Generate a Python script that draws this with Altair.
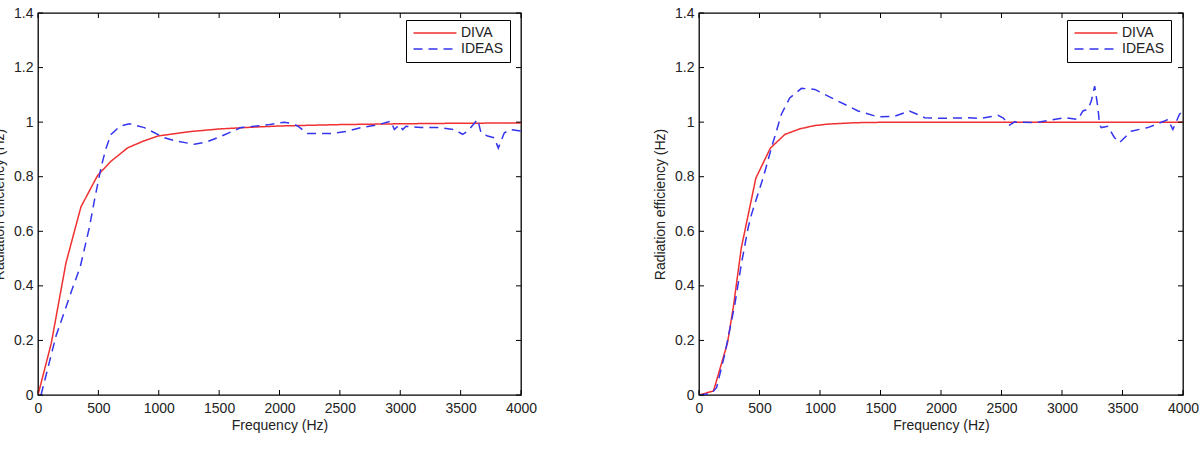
import altair as alt
import pandas as pd

# ---- data ----
series_names = ["DIVA", "IDEAS"]
x_ticks = [0, 500, 1000, 1500, 2000, 2500, 3000, 3500, 4000]
y_ticks = [0, 0.2, 0.4, 0.6, 0.8, 1.0, 1.2, 1.4]

left_diva_f = [0, 110, 232, 356, 494, 605, 743, 870, 991, 1250, 1500, 1750, 2000, 2500, 3000, 3500, 4000]
left_diva_v = [0, 0.19, 0.485, 0.69, 0.805, 0.857, 0.906, 0.930, 0.949, 0.965, 0.975, 0.981, 0.986, 0.991, 0.994, 0.996, 0.997]

left_ideas_f = [25, 149, 287, 350, 425, 470, 522, 560, 605, 680, 756, 880, 1046, 1150, 1294, 1400, 1488,
                1681, 1902, 2040, 2100, 2150, 2233, 2427, 2565, 2675, 2813, 2923, 2951, 2992, 3020, 3048,
                3172, 3310, 3448, 3517, 3558, 3641, 3669, 3724, 3779, 3812, 3862, 3917, 4000]
left_ideas_v = [0, 0.216, 0.393, 0.47, 0.613, 0.72, 0.833, 0.90, 0.955, 0.985, 0.994, 0.98, 0.943, 0.93, 0.919, 0.928, 0.943,
                0.98, 0.99, 1.0, 0.995, 0.986, 0.958, 0.958, 0.967, 0.98, 0.99, 1.004, 0.973, 0.99, 0.973, 0.985,
                0.98, 0.98, 0.973, 0.955, 0.967, 1.01, 0.961, 0.949, 0.943, 0.905, 0.961, 0.973, 0.967]

right_diva_f = [0, 120, 235, 283, 350, 470, 590, 710, 830, 950, 1070, 1300, 1600, 2000, 3000, 4000]
right_diva_v = [0, 0.015, 0.19, 0.32, 0.54, 0.795, 0.905, 0.955, 0.975, 0.987, 0.993, 0.998, 1.0, 1.0, 1.0, 1.0]

right_ideas_f = [0, 100, 145, 213, 296, 350, 406, 434, 530, 599, 681, 750, 847, 957, 1122, 1315, 1480, 1618,
                 1740, 1838, 1865, 2003, 2223, 2334, 2471, 2512, 2567, 2609, 2774, 2884, 3022, 3132, 3173,
                 3214, 3242, 3270, 3297, 3310, 3324, 3379, 3434, 3476, 3572, 3710, 3847, 3875, 3916, 3971, 4000]
right_ideas_v = [0, 0.005, 0.027, 0.149, 0.332, 0.48, 0.613, 0.662, 0.796, 0.906, 1.029, 1.089, 1.124, 1.12, 1.083, 1.041, 1.019, 1.022,
                 1.041, 1.022, 1.016, 1.014, 1.016, 1.014, 1.025, 1.016, 0.989, 1.001, 0.998, 1.006, 1.016, 1.01, 1.041,
                 1.047, 1.077, 1.132, 1.053, 0.992, 0.98, 0.985, 0.943, 0.925, 0.967, 0.98, 1.004, 1.01, 0.973, 1.029, 1.04]

x_title = "Frequency (Hz)"
y_title = "Radiation efficiency (Hz)"

# ---- styling ----
H = 382
W_LEFT = 483
W_RIGHT = 484
TICK = 5
RED = "#f03030"
BLUE = "#3535ee"
FONT = "Liberation Sans"
TEXT = "#222222"


def make_df(fd, vd, fi, vi):
    a = pd.DataFrame({"f": fd, "v": vd, "s": series_names[0]})
    b = pd.DataFrame({"f": fi, "v": vi, "s": series_names[1]})
    return pd.concat([a, b], ignore_index=True)


def legend():
    return alt.Legend(
        title=None, orient="none", legendX=368, legendY=7,
        strokeColor="black", fillColor="white", padding=6, cornerRadius=0,
        symbolType="M-1,0H6.8", symbolSize=121, symbolStrokeWidth=1.5,
        labelOffset=35, labelFont=FONT, labelFontSize=14, labelColor=TEXT, rowPadding=2,
    )


def panel(df, w):
    xs = alt.Scale(domain=[0, 4000], nice=False)
    ys = alt.Scale(domain=[0, 1.4], nice=False)
    lines = alt.Chart(df).mark_line(strokeWidth=1.5, clip=True).encode(
        x=alt.X("f:Q", scale=xs, axis=alt.Axis(orient="bottom", values=x_ticks, format="d", ticks=False,
                                               labelFlush=False, labelPadding=6, title=x_title, titlePadding=3)),
        y=alt.Y("v:Q", scale=ys, axis=alt.Axis(orient="left", values=y_ticks, format="~g", ticks=False,
                                               labelFlush=False, labelPadding=5, title=y_title, titlePadding=7)),
        color=alt.Color("s:N", scale=alt.Scale(domain=series_names, range=[RED, BLUE]), legend=legend()),
        strokeDash=alt.StrokeDash("s:N", scale=alt.Scale(domain=series_names, range=[[1, 0], [9, 6]]),
                                  legend=legend()),
    )
    xt = alt.Chart(pd.DataFrame({"t": x_ticks}))
    yt = alt.Chart(pd.DataFrame({"t": y_ticks}))
    xb = xt.mark_rule(color="black", strokeWidth=1).encode(
        x=alt.X("t:Q", scale=xs, axis=None), y=alt.value(H), y2=alt.value(H - TICK))
    xtop = xt.mark_rule(color="black", strokeWidth=1).encode(
        x=alt.X("t:Q", scale=xs, axis=None), y=alt.value(0), y2=alt.value(TICK))
    yl = yt.mark_rule(color="black", strokeWidth=1).encode(
        y=alt.Y("t:Q", scale=ys, axis=None), x=alt.value(0), x2=alt.value(TICK))
    yr = yt.mark_rule(color="black", strokeWidth=1).encode(
        y=alt.Y("t:Q", scale=ys, axis=None), x=alt.value(w), x2=alt.value(w - TICK))
    return (
        alt.layer(lines, xb, xtop, yl, yr)
        .resolve_axis(x="independent", y="independent")
        .properties(width=w, height=H)
    )


left = panel(make_df(left_diva_f, left_diva_v, left_ideas_f, left_ideas_v), W_LEFT)
right = panel(make_df(right_diva_f, right_diva_v, right_ideas_f, right_ideas_v), W_RIGHT)

chart = (
    alt.hconcat(left, right, spacing=178, bounds="flush")
    .resolve_scale(color="independent", strokeDash="independent")
    .resolve_legend(color="independent", strokeDash="independent")
    .properties(padding={"left": -9, "top": 5, "right": 0, "bottom": 0}, background="white")
    .configure_view(stroke="black", strokeWidth=1.3)
    .configure_axis(
        grid=False, domain=False, tickColor="black", tickWidth=1,
        labelFont=FONT, labelFontSize=14, labelColor=TEXT,
        titleFont=FONT, titleFontSize=14, titleFontWeight="normal", titleColor=TEXT,
    )
)

chart.save("out.html", embed_options={"renderer": "svg", "actions": False})
